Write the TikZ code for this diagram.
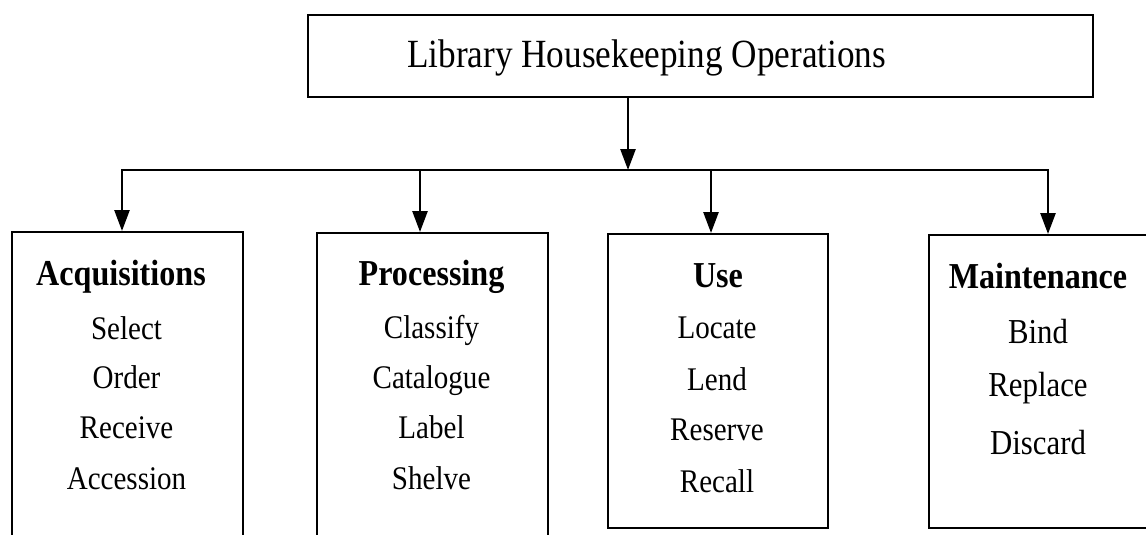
\documentclass[tikz,border=0pt]{standalone}
\usepackage{fontspec}
\setmainfont{Liberation Serif}[FakeStretch=0.88]
\usetikzlibrary{arrows.meta}

\begin{document}
\begin{tikzpicture}[x=1pt,y=-1pt,
  box/.style={draw=black, line width=2pt, fill=white, inner sep=0pt, anchor=north west},
  conn/.style={line width=2.6pt, draw=black},
  arr/.style={conn, -{Triangle[width=15pt,length=21pt]}},
  title/.style={inner sep=0pt, anchor=base west, font=\fontsize{40}{40}\selectfont},
  head/.style={inner sep=0pt, anchor=base, font=\fontsize{36.5}{36.5}\selectfont\bfseries},
  item/.style={inner sep=0pt, anchor=base, font=\fontsize{33}{33}\selectfont},
  bigitem/.style={item, font=\fontsize{35}{35}\selectfont}]

\useasboundingbox (0,0) rectangle (1146,535);
\clip (0,0) rectangle (1146,535);

% top-level box
\node[box, minimum width=785pt, minimum height=82pt] (top) at (307,14) {};
\node[title] (topT) at (407,67) {Library Housekeeping Operations};

% the four operation boxes
\node[box, minimum width=231pt, minimum height=330pt] (acq)   at (11,231)  {};
\node[box, minimum width=231pt, minimum height=330pt] (proc)  at (316,232) {};
\node[box, minimum width=220pt, minimum height=294pt] (use)   at (607,233) {};
\node[box, minimum width=222pt, minimum height=293pt] (maint) at (928,234) {};

% branching connector
\coordinate (hub) at (628,170);
\coordinate (jA) at (122,170);
\coordinate (jP) at (420,170);
\coordinate (jU) at (711,170);
\coordinate (jM) at (1048,170);

\draw[arr] (top.south -| hub) -- (hub);
\draw[conn, line cap=rect] (jA) -- (jM);
\draw[arr] (jA) -- (jA |- acq.north);
\draw[arr] (jP) -- (jP |- proc.north);
\draw[arr] (jU) -- (jU |- use.north);
\draw[arr] (jM) -- (jM |- maint.north);

% Acquisitions
\node[head] (acqH) at (121,285) {Acquisitions};
\node[item] (acq1) at (126.5,339) {Select};
\node[item] (acq2) at (126.5,388) {Order};
\node[item] (acq3) at (126.5,438) {Receive};
\node[item] (acq4) at (126.5,489) {Accession};

% Processing
\node[head] (procH) at (431.5,285) {Processing};
\node[item] (proc1) at (431.5,338) {Classify};
\node[item] (proc2) at (431.5,388) {Catalogue};
\node[item] (proc3) at (431.5,438) {Label};
\node[item] (proc4) at (431.5,489) {Shelve};

% Use
\node[head] (useH) at (718,287) {Use};
\node[item] (use1) at (717,338) {Locate};
\node[item] (use2) at (717,390) {Lend};
\node[item] (use3) at (717,440) {Reserve};
\node[item] (use4) at (717,492) {Recall};

% Maintenance
\node[head] (maintH) at (1038,288) {Maintenance};
\node[bigitem] (maint1) at (1038,343) {Bind};
\node[bigitem] (maint2) at (1038,396) {Replace};
\node[bigitem] (maint3) at (1038,454) {Discard};
\end{tikzpicture}
\end{document}
